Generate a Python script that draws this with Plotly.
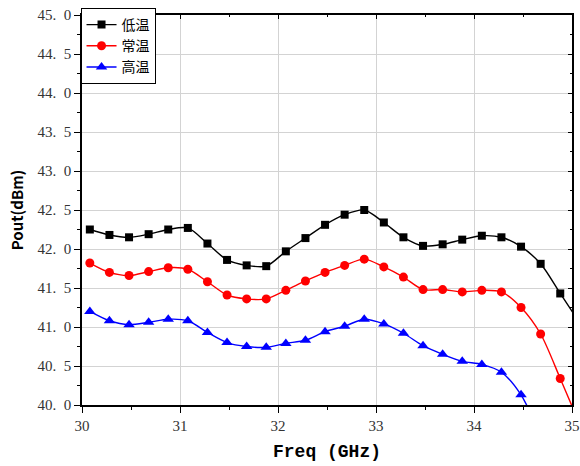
import plotly.graph_objects as go

freq = [30.08, 30.28, 30.48, 30.68, 30.88, 31.08, 31.28, 31.48, 31.68, 31.88,
        32.08, 32.28, 32.48, 32.68, 32.88, 33.08, 33.28, 33.48, 33.68, 33.88,
        34.08, 34.28, 34.48, 34.68, 34.88, 35.08]

low_temp = [42.25, 42.18, 42.15, 42.19, 42.25, 42.27, 42.07, 41.86, 41.79, 41.78,
            41.97, 42.14, 42.31, 42.44, 42.50, 42.34, 42.15, 42.04, 42.06, 42.12,
            42.17, 42.15, 42.03, 41.81, 41.43, 41.05]

room_temp = [41.82, 41.70, 41.66, 41.71, 41.76, 41.74, 41.58, 41.41, 41.36, 41.36,
             41.47, 41.59, 41.70, 41.79, 41.87, 41.77, 41.64, 41.48, 41.48, 41.45,
             41.47, 41.45, 41.25, 40.91, 40.34, 39.75]

high_temp = [41.20, 41.08, 41.03, 41.06, 41.10, 41.08, 40.93, 40.80, 40.75, 40.74,
             40.79, 40.83, 40.94, 41.01, 41.10, 41.04, 40.92, 40.76, 40.65, 40.56,
             40.52, 40.42, 40.13, 39.60]

names = ["低温", "常温", "高温"]
colors = ["#000000", "#ff0000", "#0000ff"]
symbols = ["square", "circle", "triangle-up"]
sizes = [8, 9, 10]

y_ticks = [40.0, 40.5, 41.0, 41.5, 42.0, 42.5, 43.0, 43.5, 44.0, 44.5, 45.0]
y_labels = ["40.\u20020", "40.\u20025", "41.\u20020", "41.\u20025", "42.\u20020", "42.\u20025",
            "43.\u20020", "43.\u20025", "44.\u20020", "44.\u20025", "45.\u20020"]
x_ticks = [30, 31, 32, 33, 34, 35]
x_labels = ["30", "31", "32", "33", "34", "35"]

fig = go.Figure()
for name, ys, c, s, sz in zip(names, [low_temp, room_temp, high_temp], colors, symbols, sizes):
    fig.add_trace(go.Scatter(
        x=freq[:len(ys)], y=ys, name=name, mode="lines+markers",
        line=dict(color=c, width=1.4, shape="spline", smoothing=0.8),
        marker=dict(color=c, symbol=s, size=sz),
        cliponaxis=True,
    ))

# helper trace for mirrored inward ticks on top/right
fig.add_trace(go.Scatter(x=[], y=[], xaxis="x2", yaxis="y2", showlegend=False))

tickfont = dict(family="Liberation Serif, DejaVu Serif, serif", size=15, color="#333333")

fig.update_layout(
    width=580, height=466,
    margin=dict(l=82, r=8, t=15, b=61, autoexpand=False),
    paper_bgcolor="white", plot_bgcolor="white",
    font=dict(family="Noto Sans CJK SC, sans-serif", color="black"),
    xaxis=dict(
        range=[30, 35], tickvals=x_ticks, ticktext=x_labels, automargin=False,
        ticks="outside", ticklen=6, tickwidth=1.2, tickcolor="black",
        ticklabeloverflow="allow",
        minor=dict(dtick=0.5, ticks="outside", ticklen=3, tickcolor="black", showgrid=False),
        showline=True, linecolor="black", linewidth=1.5,
        showgrid=True, gridcolor="#d3d3d3", gridwidth=1,
        tickfont=tickfont, zeroline=False,
        title=dict(text="<b>Freq (GHz)</b>", font=dict(family="Liberation Mono, monospace", size=18, color="black"), standoff=12),
    ),
    yaxis=dict(
        range=[40, 45], tickvals=y_ticks, ticktext=y_labels, automargin=False,
        ticks="outside", ticklen=6, tickwidth=1.2, tickcolor="black",
        minor=dict(dtick=0.25, ticks="outside", ticklen=3, tickcolor="black", showgrid=False),
        showline=True, linecolor="black", linewidth=1.5,
        showgrid=True, gridcolor="#d3d3d3", gridwidth=1,
        tickfont=tickfont, zeroline=False,
        title=dict(text="<b>Pout(dBm)</b>", font=dict(family="Noto Sans CJK SC, sans-serif", size=15, color="black"), standoff=10),
    ),
    xaxis2=dict(
        overlaying="x", side="top", range=[30, 35], tickvals=x_ticks, automargin=False,
        ticks="inside", ticklen=4, tickcolor="black", showticklabels=False,
        minor=dict(dtick=0.5, ticks="inside", ticklen=2, tickcolor="black"),
        showline=True, linecolor="black", linewidth=1.5, showgrid=False, zeroline=False,
    ),
    yaxis2=dict(
        overlaying="y", side="right", range=[40, 45], tickvals=y_ticks, automargin=False,
        ticks="inside", ticklen=4, tickcolor="black", showticklabels=False,
        minor=dict(dtick=0.25, ticks="inside", ticklen=2, tickcolor="black"),
        showline=True, linecolor="black", linewidth=1.5, showgrid=False, zeroline=False,
    ),
    legend=dict(
        x=-0.003, y=1.018, xanchor="left", yanchor="top",
        bgcolor="white", bordercolor="black", borderwidth=1,
        font=dict(family="Noto Sans CJK SC, sans-serif", size=14, color="black"),
        tracegroupgap=0, itemwidth=30,
    ),
    showlegend=True,
)

fig.write_html("out.html", config={"displayModeBar": False},
               post_script="document.body.style.margin='0px';")
